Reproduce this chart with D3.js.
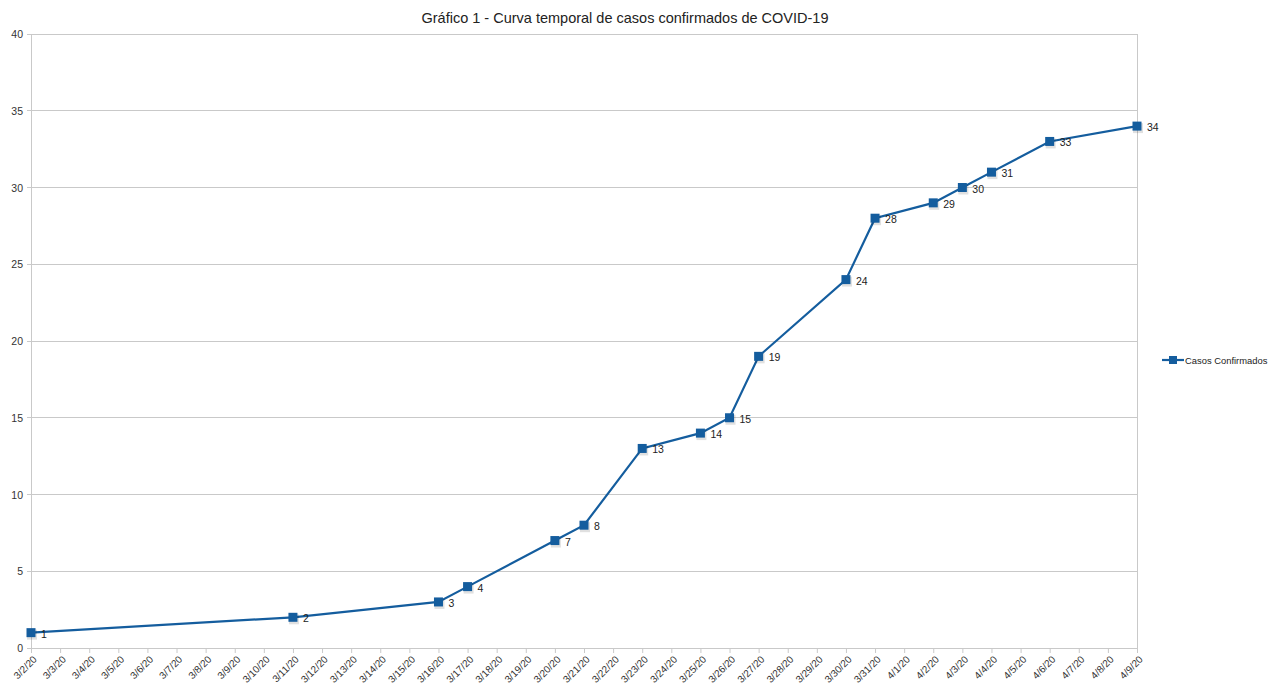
<!DOCTYPE html>
<html><head><meta charset="utf-8">
<script src="https://cdn.jsdelivr.net/npm/d3@7"></script>
<style>body{margin:0;background:#fff;font-family:"Liberation Sans",Arial,sans-serif;}</style>
</head><body><svg id="c" width="1271" height="686"></svg>
<script>
const title = "Gráfico 1 - Curva temporal de casos confirmados de COVID-19";
const seriesName = "Casos Confirmados";
const pointDates = ["3/2/20","3/11/20","3/16/20","3/17/20","3/20/20","3/21/20","3/23/20","3/25/20","3/26/20","3/27/20","3/30/20","3/31/20","4/2/20","4/3/20","4/4/20","4/6/20","4/9/20"];
const pointValues = [1,2,3,4,7,8,13,14,15,19,24,28,29,30,31,33,34];
const yTicks = [0,5,10,15,20,25,30,35,40];
const startDate = "3/2/20", endDate = "4/9/20";

const parse = d3.timeParse("%m/%d/%y");
const fmt = d => (d.getMonth()+1)+"/"+d.getDate()+"/"+String(d.getFullYear()).slice(2);
const days = d3.timeDay.range(parse(startDate), d3.timeDay.offset(parse(endDate),1));
const data = pointDates.map((d,i)=>({date:parse(d), v:pointValues[i]}));

const svg = d3.select("#c");
const L=31, R=1137, T=34, B=648;
const x = d3.scaleTime().domain([parse(startDate), parse(endDate)]).range([L,R]);
const y = d3.scaleLinear().domain([0,40]).range([B,T]);
const col = "#145d9e", grid="#c9c9c9";

svg.append("text").attr("x",625).attr("y",23).attr("text-anchor","middle")
  .attr("font-size",14.5).attr("fill","#222").text(title);

// gridlines
svg.append("g").selectAll("line").data(yTicks).join("line")
  .attr("x1",L-4).attr("x2",R).attr("y1",d=>y(d)).attr("y2",d=>y(d))
  .attr("stroke",grid).attr("stroke-width",1).attr("shape-rendering","crispEdges");
svg.append("line").attr("x1",L).attr("x2",L).attr("y1",T).attr("y2",B)
  .attr("stroke",grid).attr("shape-rendering","crispEdges");
svg.append("line").attr("x1",R).attr("x2",R).attr("y1",T).attr("y2",B+4)
  .attr("stroke",grid).attr("shape-rendering","crispEdges");

// y labels
svg.append("g").selectAll("text").data(yTicks).join("text")
  .attr("x",L-8).attr("y",d=>y(d)+4).attr("text-anchor","end")
  .attr("font-size",10.5).attr("fill","#333").text(d=>d);

// x axis
const xAxis = d3.axisBottom(x).tickValues(days).tickSize(5).tickFormat(fmt);
const gx = svg.append("g").attr("transform",`translate(0,${B})`).call(xAxis);
gx.select(".domain").attr("stroke",grid);
gx.selectAll(".tick line").attr("stroke",grid);
gx.selectAll(".tick text").attr("font-size",10).attr("fill","#333")
  .attr("font-family","Liberation Sans, Arial, sans-serif")
  .attr("text-anchor","end").attr("x",0).attr("y",0).attr("dy",0)
  .attr("transform","translate(6,12) rotate(-45)");

// line
const line = d3.line().x(d=>x(d.date)).y(d=>y(d.v));
svg.append("path").datum(data).attr("d",line).attr("fill","none")
  .attr("stroke",col).attr("stroke-width",2.2);

// markers shadow
svg.append("g").selectAll("rect").data(data).join("rect")
  .attr("x",d=>x(d.date)-4).attr("y",d=>y(d.v)-3).attr("width",10).attr("height",10)
  .attr("fill","#000").attr("opacity",0.12);
svg.append("g").selectAll("rect").data(data).join("rect")
  .attr("x",d=>x(d.date)-4.5).attr("y",d=>y(d.v)-4.5).attr("width",9).attr("height",9)
  .attr("fill",col);

// labels
svg.append("g").selectAll("text").data(data).join("text")
  .attr("x",d=>x(d.date)+10).attr("y",d=>y(d.v)+5)
  .attr("font-size",10.5).attr("fill","#222").text(d=>d.v);

// legend
const lg = svg.append("g").attr("transform","translate(1162,360)");
lg.append("line").attr("x1",0).attr("x2",22).attr("stroke",col).attr("stroke-width",2.2);
lg.append("rect").attr("x",7).attr("y",-4).attr("width",8).attr("height",8).attr("fill",col);
lg.append("text").attr("x",23).attr("y",4).attr("font-size",9.4).attr("fill","#222").text(seriesName);
</script></body></html>
